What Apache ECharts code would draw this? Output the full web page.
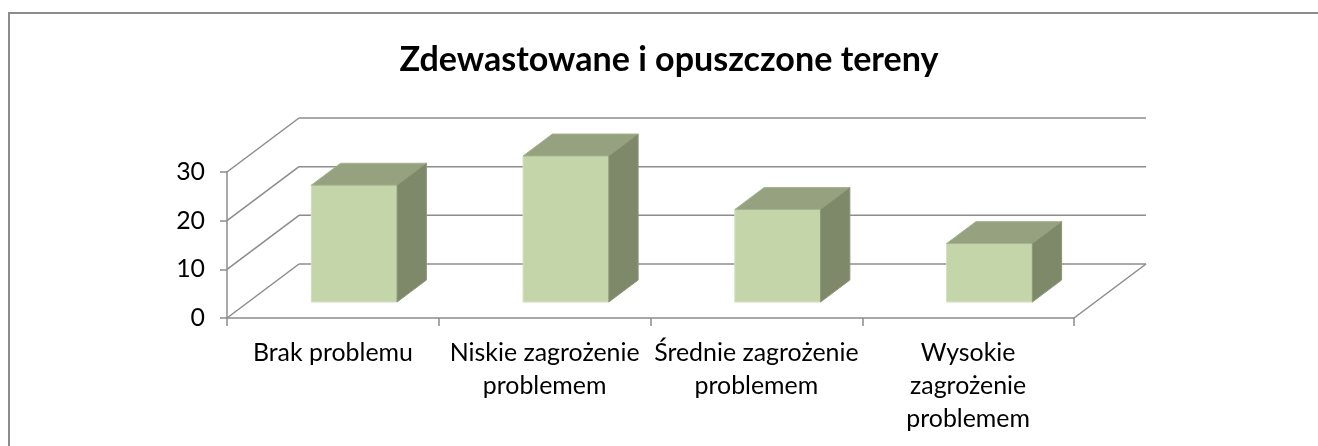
<!DOCTYPE html>
<html>
<head>
<meta charset="utf-8">
<script src="https://cdn.jsdelivr.net/npm/echarts@6/dist/echarts.min.js"></script>
<style>
  html, body { margin: 0; padding: 0; background: #fff; }
  #chart { width: 1318px; height: 446px; }
</style>
</head>
<body>
<div id="chart"></div>
<script>
// dane
var categories = ['Brak problemu', 'Niskie zagrożenie\nproblemem', 'Średnie zagrożenie\nproblemem', 'Wysokie\nzagrożenie\nproblemem'];
var values = [24, 30, 19, 12];
var yTicks = [0, 10, 20, 30];
var titleText = 'Zdewastowane i opuszczone tereny';

var FONT = 'Lato, "Open Sans", sans-serif';
// przesuniecie glebi 3D (podloga / tylna sciana)
var DX = 72, DY = -54;
var BAR_FRONT = 0.296, BAR_DEPTH = 0.407, BAR_W = 0.405;
var LINE = '#8c8c8c';

// dopasowanie rozmiaru czcionki do szerokosci tekstu z oryginalu
var cv = document.createElement('canvas').getContext('2d');
function fitSize(text, weight, target) {
	cv.font = weight + ' 100px ' + FONT;
	return Math.round(100 * target / cv.measureText(text).width * 10) / 10;
}
var labelSize = fitSize('Brak problemu', 'normal', 160);
var titleSize = fitSize(titleText, 'bold', 540);

var chart = echarts.init(document.getElementById('chart'), null, { renderer: 'canvas' });

function renderWalls(params, api) {
	var cs = params.coordSys;
	var v = api.value(1);
	var y = api.coord([0, v])[1];
	var x0 = cs.x, x1 = cs.x + cs.width;
	var style = { stroke: LINE, lineWidth: 1.5 };
	var children = [
		{ type: 'line', shape: { x1: x0, y1: y, x2: x0 + DX, y2: y + DY }, style: style },
		{ type: 'line', shape: { x1: x0 + DX, y1: y + DY, x2: x1 + DX, y2: y + DY }, style: style }
	];
	if (v === 0) {
		children.push({ type: 'line', shape: { x1: x1, y1: y, x2: x1 + DX, y2: y + DY }, style: style });
	}
	return { type: 'group', children: children };
}

function renderBar(params, api) {
	var idx = api.value(0);
	var base = api.coord([idx, 0]);
	var top = api.coord([idx, api.value(1)]);
	var band = api.size([1, 0])[0];
	var w = band * BAR_W;
	var cx = base[0] + DX * BAR_FRONT;
	var xl = cx - w / 2, xr = cx + w / 2;
	var yB = base[1] + DY * BAR_FRONT;
	var yT = top[1] + DY * BAR_FRONT;
	var bdx = DX * BAR_DEPTH, bdy = DY * BAR_DEPTH;
	return {
		type: 'group',
		children: [
			{ type: 'rect', shape: { x: xl, y: yT, width: w, height: yB - yT },
			  style: { fill: '#c5d5aa', stroke: '#d3e0bf', lineWidth: 1 } },
			{ type: 'polygon', shape: { points: [[xl, yT], [xr, yT], [xr + bdx, yT + bdy], [xl + bdx, yT + bdy]] },
			  style: { fill: '#96a27f', stroke: '#a6b28f', lineWidth: 1 } },
			{ type: 'polygon', shape: { points: [[xr, yT], [xr, yB], [xr + bdx, yB + bdy], [xr + bdx, yT + bdy]] },
			  style: { fill: '#7e896a', stroke: '#8c9778', lineWidth: 1 } }
		]
	};
}

var option = {
	animation: false,
	backgroundColor: '#fff',
	title: {
		text: titleText,
		left: 664,
		top: 38,
		textAlign: 'center',
		textStyle: { fontFamily: FONT, fontWeight: 'bold', fontSize: titleSize, color: '#000' }
	},
	graphic: [{
		type: 'rect',
		shape: { x: 9, y: 13, width: 1400, height: 500 },
		style: { fill: 'none', stroke: LINE, lineWidth: 2 },
		silent: true
	}],
	grid: { left: 227, right: 244, top: 172, bottom: 128 },
	xAxis: {
		type: 'category',
		data: categories,
		axisLine: { lineStyle: { color: LINE, width: 1.5 } },
		axisTick: { show: true, length: 8, lineStyle: { color: LINE, width: 1.5 } },
		axisLabel: { interval: 0, margin: 18, color: '#000', fontFamily: FONT, fontSize: labelSize, lineHeight: 33, align: 'center' },
		splitLine: { show: false }
	},
	yAxis: {
		type: 'value',
		min: 0, max: 30, interval: 10,
		axisLine: { show: true, lineStyle: { color: LINE, width: 1.5 } },
		axisTick: { show: true, length: 7, lineStyle: { color: LINE, width: 1.5 } },
		axisLabel: { margin: 22, color: '#000', fontFamily: FONT, fontSize: labelSize },
		splitLine: { show: false }
	},
	series: [
		{
			type: 'custom',
			name: 'sciany',
			z: 1,
			silent: true,
			renderItem: renderWalls,
			data: yTicks.map(function (t) { return [0, t]; })
		},
		{
			type: 'custom',
			name: 'Zdewastowane i opuszczone tereny',
			z: 5,
			renderItem: renderBar,
			encode: { x: 0, y: 1 },
			data: values.map(function (v, i) { return [i, v]; })
		}
	]
};
chart.setOption(option);
</script>
</body>
</html>
